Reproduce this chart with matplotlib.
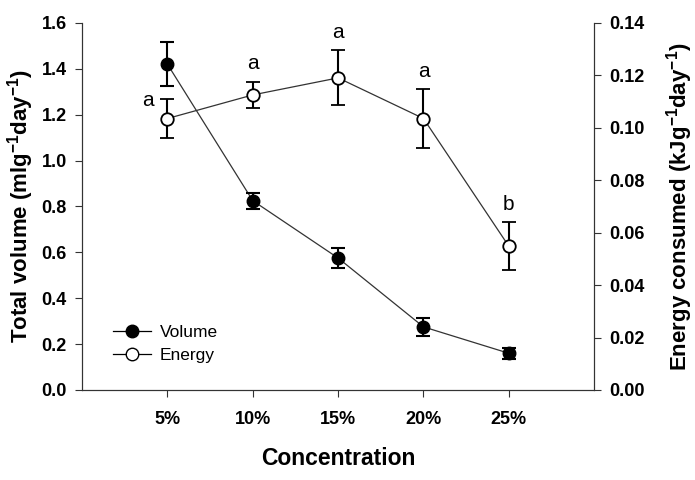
import matplotlib
matplotlib.use("Agg")
import matplotlib.pyplot as plt
from matplotlib.lines import Line2D

plt.rcParams['font.family'] = ['Liberation Sans', 'DejaVu Sans']
plt.rcParams['mathtext.fontset'] = 'custom'
plt.rcParams['mathtext.rm'] = 'Liberation Sans'
plt.rcParams['mathtext.bf'] = 'Liberation Sans:bold'
plt.rcParams['mathtext.it'] = 'Liberation Sans:italic'

categories = ['5%', '10%', '15%', '20%', '25%']
volume = [1.42, 0.825, 0.575, 0.275, 0.16]
volume_err = [0.095, 0.035, 0.045, 0.04, 0.025]
energy = [0.1035, 0.1125, 0.119, 0.1035, 0.0548]
energy_err = [0.0075, 0.005, 0.0105, 0.0112, 0.0092]
letters = ['a', 'a', 'a', 'a', 'b']

x = list(range(1, len(categories) + 1))

fig = plt.figure(figsize=(6.95, 4.8), dpi=100)
ax = fig.add_axes([0.118, 0.1875, 0.737, 0.765])
ax2 = ax.twinx()

ax.errorbar(x, volume, yerr=volume_err, fmt='o', color='black', ecolor='black',
            elinewidth=1.5, capsize=5, capthick=1.5, markersize=9,
            markerfacecolor='black', markeredgecolor='black', zorder=3)
ax.plot(x, volume, color='#333333', lw=0.9, zorder=2)

ax2.plot(x, energy, color='#333333', lw=0.9, zorder=2)
ax2.errorbar(x, energy, yerr=energy_err, fmt='o', color='black', ecolor='black',
             elinewidth=1.5, capsize=5, capthick=1.5, markersize=9,
             markerfacecolor='white', markeredgecolor='black', markeredgewidth=1.3, zorder=3)

for i, (xi, e, err, l) in enumerate(zip(x, energy, energy_err, letters)):
    if i == 0:
        ax2.text(xi - 0.23, e + err - 0.0005, l, ha='center', va='center', fontsize=15)
    else:
        ax2.text(xi, e + err + 0.0068, l, ha='center', va='center', fontsize=15)

ax.set_xlim(0, 6)
ax.set_ylim(0, 1.6)
ax2.set_ylim(0, 0.14)
ax.set_xticks(x)
ax.set_xticklabels(categories)
ax.set_yticks([0.0, 0.2, 0.4, 0.6, 0.8, 1.0, 1.2, 1.4, 1.6])
ax.set_yticklabels([f'{v:.1f}' for v in [0.0, 0.2, 0.4, 0.6, 0.8, 1.0, 1.2, 1.4, 1.6]])
ax2.set_yticks([0.0, 0.02, 0.04, 0.06, 0.08, 0.10, 0.12, 0.14])
ax2.set_yticklabels([f'{v:.2f}' for v in [0.0, 0.02, 0.04, 0.06, 0.08, 0.10, 0.12, 0.14]])

for a in (ax, ax2):
    a.spines['top'].set_visible(False)
    for s in a.spines.values():
        s.set_linewidth(0.8)
        s.set_color('#333333')
    a.tick_params(direction='out', length=5, width=0.8, labelsize=13, colors='#333333',
                  labelcolor='black')
    for lab in a.get_yticklabels() + a.get_xticklabels():
        lab.set_fontweight('bold')
ax.tick_params(axis='x', pad=10)
ax.tick_params(axis='y', pad=6)
ax2.tick_params(axis='y', pad=6)

ax.set_xlabel('Concentration', fontsize=16.5, fontweight='bold', labelpad=14)
ax.set_ylabel('Total volume (mlg$^{\\mathbf{-1}}$day$^{\\mathbf{-1}}$)', fontsize=16, fontweight='bold', labelpad=4)
ax2.set_ylabel('Energy consumed (kJg$^{\\mathbf{-1}}$day$^{\\mathbf{-1}}$)', fontsize=16, fontweight='bold', labelpad=14)

handles = [Line2D([0], [0], color='black', lw=0.9, marker='o', markersize=9,
                  markerfacecolor='black', markeredgecolor='black'),
           Line2D([0], [0], color='black', lw=0.9, marker='o', markersize=9,
                  markerfacecolor='white', markeredgecolor='black')]
ax.legend(handles, ['Volume', 'Energy'], loc='lower left', bbox_to_anchor=(0.03, 0.03),
          frameon=False, fontsize=12.5, handlelength=2.2, handletextpad=0.5,
          labelspacing=0.45)

fig.savefig('out.png', dpi=100)
